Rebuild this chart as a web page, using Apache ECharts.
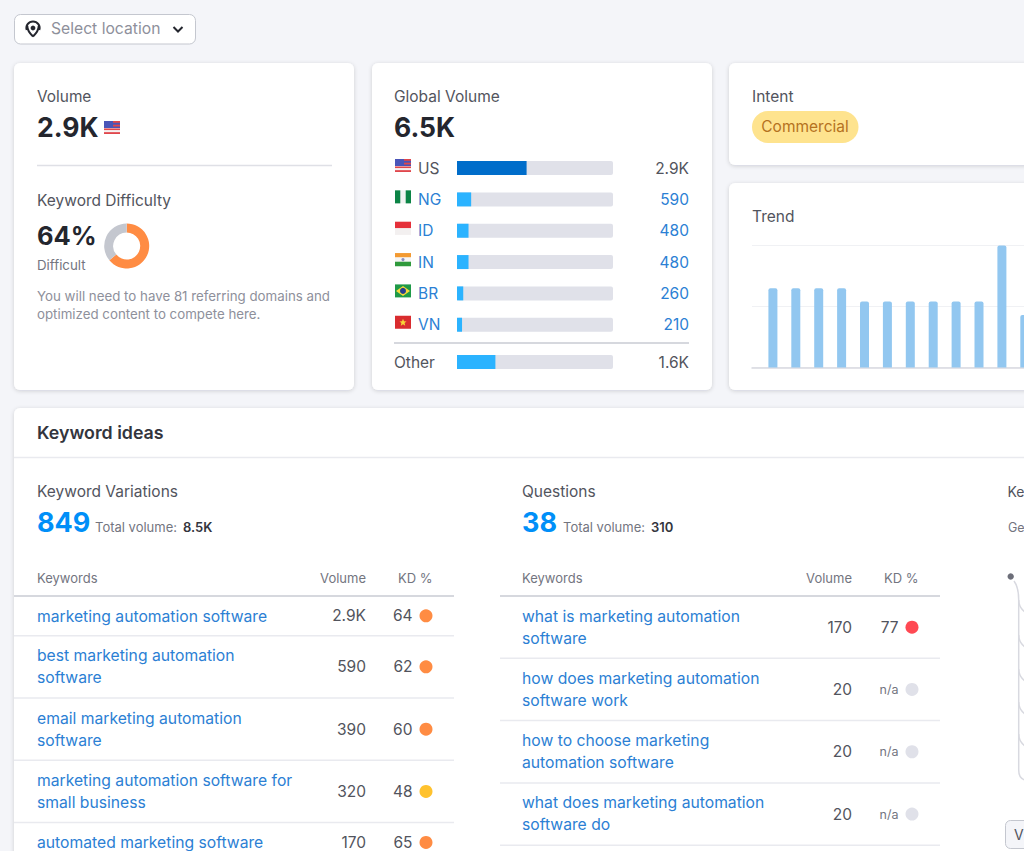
<!DOCTYPE html>
<html>
<head>
<meta charset="utf-8">
<title>Keyword overview</title>
<style>
  html, body { margin: 0; padding: 0; background: #f4f5f9; overflow: hidden; }
  #chart { width: 1024px; height: 851px; }
</style>
<script src="https://cdn.jsdelivr.net/npm/echarts@6/dist/echarts.min.js"></script>
</head>
<body>
<div id="chart"></div>
<script>
// global volume by country
var countries = ['US', 'NG', 'ID', 'IN', 'BR', 'VN'];
var countryVolumes = [2900, 590, 480, 480, 260, 210];
var countryLabels = ['2.9K', '590', '480', '480', '260', '210'];
var otherVolume = 1600;
var globalVolume = 6500;

// keyword difficulty
var difficulty = 64;

// trend, share of the peak month
var trendMonths = [1, 2, 3, 4, 5, 6, 7, 8, 9, 10, 11, 12];
var trendValues = [65, 65, 65, 65, 54, 54, 54, 54, 54, 54, 100, 43];

// keyword variations table
var variationKeywords = ['marketing automation software', 'best marketing automation\nsoftware', 'email marketing automation\nsoftware', 'marketing automation software for\nsmall business', 'automated marketing software'];
var variationVolumes = ['2.9K', '590', '390', '320', '170'];
var variationKd = [64, 62, 60, 48, 65];

// questions table
var questionKeywords = ['what is marketing automation\nsoftware', 'how does marketing automation\nsoftware work', 'how to choose marketing\nautomation software', 'what does marketing automation\nsoftware do'];
var questionVolumes = ['170', '20', '20', '20'];
var questionKd = [77, null, null, null];

var FONT = 'Inter, "Noto Sans", sans-serif';
var LINK = '#2b80d4';
var DARK = '#24262e';
var TEXT = '#52545d';
var GREY = '#73757f';
var TREE = '#d8d9e0';

var els = [];

function txt(x, y, s, size, color, weight, align) {
    els.push({
        type: 'text',
        x: x, y: y,
        style: {
            text: s,
            fill: color,
            font: (weight || 400) + ' ' + size + 'px ' + FONT,
            align: align || 'left',
            textAlign: align || 'left',
            verticalAlign: 'middle',
            textVerticalAlign: 'middle'
        }
    });
}
function rect(x, y, w, h, color, r) {
    els.push({ type: 'rect', shape: { x: x, y: y, width: w, height: h, r: r || 0 }, style: { fill: color } });
}
function line(x1, y1, x2, y2, color, width) {
    els.push({ type: 'line', shape: { x1: x1, y1: y1, x2: x2, y2: y2 }, style: { stroke: color, lineWidth: width || 1 } });
}
function card(x, y, w, h) {
    els.push({
        type: 'rect',
        shape: { x: x, y: y, width: w, height: h, r: 6 },
        style: { fill: '#fff', shadowBlur: 4, shadowColor: 'rgba(25,27,35,0.16)', shadowOffsetY: 1 }
    });
}
function dot(x, y, r, color) {
    els.push({ type: 'circle', shape: { cx: x, cy: y, r: r }, style: { fill: color } });
}
function curve(x1, y1, cx1, cy1, cx2, cy2, x2, y2, color, width) {
    els.push({
        type: 'bezierCurve',
        shape: { x1: x1, y1: y1, cpx1: cx1, cpy1: cy1, cpx2: cx2, cpy2: cy2, x2: x2, y2: y2 },
        style: { stroke: color, lineWidth: width || 1.5, fill: 'none' }
    });
}

// flags
function stripes(x, y, colors) {
    var h = 13 / colors.length;
    colors.forEach(function (c, i) { rect(x, y + i * h, 16, h + 0.2, c); });
}
function flag(code, x, y) {
    if (code === 'US') {
        for (var i = 0; i < 7; i++) {
            rect(x, y + i * 13 / 7, 16, 13 / 7, i % 2 ? '#f4f0f0' : '#e0474c');
        }
        rect(x, y, 16, 7, '#4a55b8');
        rect(x + 9, y, 7, 1.8, '#e0474c');
        rect(x + 9, y + 3.7, 7, 1.8, '#e0474c');
    } else if (code === 'NG') {
        rect(x, y, 16, 13, '#f2f4f2');
        rect(x, y, 5.3, 13, '#0c8446');
        rect(x + 10.7, y, 5.3, 13, '#0c8446');
    } else if (code === 'ID') {
        stripes(x, y, ['#e5303a', '#f3f0f0']);
    } else if (code === 'IN') {
        stripes(x, y, ['#f39a32', '#f5f5f5', '#2f9a3c']);
        dot(x + 8, y + 6.5, 1.6, '#8a8fc0');
    } else if (code === 'BR') {
        rect(x, y, 16, 13, '#1f9a48');
        els.push({ type: 'polygon', shape: { points: [[x + 8, y + 1.5], [x + 15, y + 6.5], [x + 8, y + 11.5], [x + 1, y + 6.5]] }, style: { fill: '#f7d93a' } });
        dot(x + 8, y + 6.5, 3, '#263f8f');
    } else if (code === 'VN') {
        rect(x, y, 16, 13, '#d92c2f');
        els.push({ type: 'polygon', shape: { points: [[x + 8, y + 3], [x + 9, y + 5.5], [x + 11.5, y + 5.7], [x + 9.6, y + 7.3], [x + 10.2, y + 10], [x + 8, y + 8.5], [x + 5.8, y + 10], [x + 6.4, y + 7.3], [x + 4.5, y + 5.7], [x + 7, y + 5.5]] }, style: { fill: '#f8d538' } });
    }
}

function kdColor(v) {
    if (v === null) return '#e0e1e9';
    if (v >= 70) return '#ff4953';
    if (v >= 50) return '#ff8c43';
    return '#ffc22e';
}

// one table, row height follows the number of text lines
function table(x0, left, keywords, volumes, kd) {
    var volX = x0 + 352, kdX = x0 + 398.5, dotX = x0 + 412;
    txt(left, 577.5, 'Keywords', 13, GREY);
    txt(volX, 577.5, 'Volume', 13, GREY, 400, 'right');
    txt(dotX + 6.5, 577.5, 'KD %', 13, GREY, 400, 'right');
    line(x0, 596, x0 + 440, 596, '#c9cbd3', 1.5);
    var y = 596;
    keywords.forEach(function (k, i) {
        var parts = k.split('\n');
        var h = parts.length > 1 ? 62.3 : 39.7;
        parts.forEach(function (p, j) {
            txt(left, y + 20 + j * 22, p, 15.7, LINK);
        });
        var mid = y + h / 2;
        txt(volX, mid, volumes[i], 15.5, TEXT, 400, 'right');
        if (kd[i] === null) {
            txt(kdX, mid, 'n/a', 12.5, GREY, 400, 'right');
        } else {
            txt(kdX, mid, String(kd[i]), 15.5, TEXT, 400, 'right');
        }
        dot(dotX, mid, 6.5, kdColor(kd[i]));
        y += h;
        line(x0, y, x0 + 440, y, '#e9eaef', 1.5);
    });
}

// location select
els.push({
    type: 'rect',
    shape: { x: 14.5, y: 14.5, width: 181, height: 29.5, r: 6 },
    style: { fill: '#fff', stroke: '#c4c7cf', lineWidth: 1 }
});
curve(27.3, 26, 27.3, 31, 33, 36.5, 33, 36.5, DARK, 2);
curve(38.7, 26, 38.7, 31, 33, 36.5, 33, 36.5, DARK, 2);
els.push({ type: 'arc', shape: { cx: 33, cy: 28, r: 6.6, startAngle: Math.PI * 0.9, endAngle: Math.PI * 2.1 }, style: { stroke: DARK, lineWidth: 2, fill: 'none' } });
dot(33, 28, 2.4, DARK);
txt(51, 28, 'Select location', 15.7, '#8e909b');
els.push({ type: 'polyline', shape: { points: [[173.5, 27], [178, 31.5], [182.5, 27]] }, style: { stroke: DARK, lineWidth: 2, fill: 'none' } });

// volume card
card(14, 63, 340, 327);
txt(37, 96, 'Volume', 15.4, TEXT);
txt(37, 127, '2.9K', 26.5, DARK, 700);
flag('US', 104, 121);
line(37, 165.5, 332, 165.5, '#dfe0e6', 1.5);
txt(37, 200, 'Keyword Difficulty', 15.5, TEXT);
txt(37, 235, difficulty + '%', 25.5, DARK, 700);
txt(37, 265, 'Difficult', 13.3, GREY);
txt(37, 296, 'You will need to have 81 referring domains and', 13.3, '#8e909b');
txt(37, 313.5, 'optimized content to compete here.', 13.3, '#8e909b');

// global volume card
card(372, 63, 340, 327);
txt(394, 96, 'Global Volume', 15.5, TEXT);
txt(394, 127, '6.5K', 26.5, DARK, 700);
countries.forEach(function (c, i) {
    flag(c, 395, 159 + i * 31.35);
});
line(394, 343, 689, 343, '#c9cbd3', 1.5);
txt(394, 362, 'Other', 15.5, TEXT);
txt(689, 362, '1.6K', 15.5, TEXT, 400, 'right');

// intent and trend cards
card(729, 63, 311, 102);
txt(752, 96, 'Intent', 15.5, TEXT);
rect(752, 111, 106.5, 32, '#fee38e', 16);
txt(805, 126.5, 'Commercial', 15.5, '#b5721f', 400, 'center');
card(729, 183, 311, 207);
txt(752, 216.5, 'Trend', 15.5, TEXT);

// keyword ideas card
card(14, 408, 1026, 460);
txt(37, 432, 'Keyword ideas', 17.8, '#33353d', 600);
line(14, 457.5, 1024, 457.5, '#e9eaef', 1.5);

txt(37, 491.5, 'Keyword Variations', 15.5, TEXT);
txt(37, 522, '849', 27, '#008ff8', 700);
txt(95, 527, 'Total volume:', 13, GREY);
txt(183, 527, '8.5K', 13, '#33353d', 600);
table(14, 37, variationKeywords, variationVolumes, variationKd);

txt(522, 491.5, 'Questions', 15.5, TEXT);
txt(522, 522, '38', 27, '#008ff8', 700);
txt(563, 527, 'Total volume:', 13, GREY);
txt(651, 527, '310', 13, '#33353d', 600);
table(500, 522, questionKeywords, questionVolumes, questionKd);

// cut off third column
txt(1007.5, 491.5, 'Ke', 14, TEXT);
txt(1008, 527, 'Ge', 12.5, GREY);
curve(1014, 581, 1017, 585, 1018.7, 591, 1018.7, 600, TREE);
line(1018.7, 600, 1018.7, 770, TREE, 1.5);
curve(1018.7, 770, 1018.7, 776, 1021, 779, 1025, 780, TREE);
[603, 638, 672, 705, 737].forEach(function (b) {
    curve(1018.7, b - 3, 1018.7, b + 2, 1021, b + 6, 1025, b + 9, TREE);
});
dot(1010.7, 576.4, 3.2, '#6c6e79');
els.push({
    type: 'rect',
    shape: { x: 1005.5, y: 820.5, width: 40, height: 28, r: 5 },
    style: { fill: '#f4f5f9', stroke: '#c4c7cf', lineWidth: 1 }
});
txt(1014, 834.5, 'V', 14, TEXT);

var chart = echarts.init(document.getElementById('chart'), null, { renderer: 'svg' });

function barSeries(xIndex, yIndex, data) {
    return {
        type: 'bar',
        xAxisIndex: xIndex,
        yAxisIndex: yIndex,
        barWidth: 14,
        silent: true,
        showBackground: true,
        backgroundStyle: { color: '#e0e1e9', borderRadius: 2 },
        data: data
    };
}

chart.setOption({
    animation: false,
    backgroundColor: '#f4f5f9',
    graphic: { elements: els },
    grid: [
        { left: 457, top: 152.4, width: 156, height: 188 },
        { left: 457, top: 347, width: 156, height: 30 },
        { left: 752, top: 245.5, width: 272, height: 122 }
    ],
    xAxis: [
        { gridIndex: 0, type: 'value', min: 0, max: globalVolume, show: false },
        { gridIndex: 1, type: 'value', min: 0, max: globalVolume, show: false },
        {
            gridIndex: 2, type: 'value', min: 0.087, max: 11.965,
            axisLabel: { show: false }, axisTick: { show: false }, splitLine: { show: false },
            axisLine: { show: true, onZero: false, lineStyle: { color: '#d8d9e0', width: 1.5 } }
        }
    ],
    yAxis: [
        {
            gridIndex: 0, type: 'category', inverse: true, data: countries,
            axisLine: { show: false }, axisTick: { show: false },
            axisLabel: {
                align: 'left', margin: 39, fontSize: 15.5, fontFamily: FONT,
                color: function (v, i) { return i === 0 ? TEXT : LINK; }
            }
        },
        {
            gridIndex: 0, type: 'category', inverse: true, position: 'right', data: countryLabels,
            axisLine: { show: false }, axisTick: { show: false },
            axisLabel: {
                align: 'right', margin: 76, fontSize: 15.5, fontFamily: FONT,
                color: function (v, i) { return i === 0 ? TEXT : LINK; }
            }
        },
        {
            gridIndex: 1, type: 'category', data: ['Other'], show: false
        },
        {
            gridIndex: 2, type: 'value', min: 0, max: 100, interval: 50,
            axisLabel: { show: false }, axisTick: { show: false },
            axisLine: { show: false },
            splitLine: { show: true, lineStyle: { color: '#f0f1f4', width: 1 } }
        }
    ],
    series: [
        barSeries(0, 0, countryVolumes.map(function (v, i) {
            return { value: v, itemStyle: { color: i === 0 ? '#006dca' : '#2bb3ff' } };
        })),
        barSeries(1, 2, [{ value: otherVolume, itemStyle: { color: '#2bb3ff' } }]),
        {
            type: 'bar',
            xAxisIndex: 2,
            yAxisIndex: 3,
            barWidth: 9,
            clip: true,
            silent: true,
            itemStyle: { color: '#92c7f0', borderRadius: [2, 2, 0, 0] },
            data: trendMonths.map(function (m, i) { return [m, trendValues[i]]; })
        },
        {
            type: 'pie',
            silent: true,
            center: [126.7, 246],
            radius: [13.5, 22.5],
            startAngle: 90,
            label: { show: false },
            labelLine: { show: false },
            data: [
                { value: difficulty, itemStyle: { color: '#ff8c43' } },
                { value: 100 - difficulty, itemStyle: { color: '#c4c7cf' } }
            ]
        }
    ]
});
</script>
</body>
</html>
